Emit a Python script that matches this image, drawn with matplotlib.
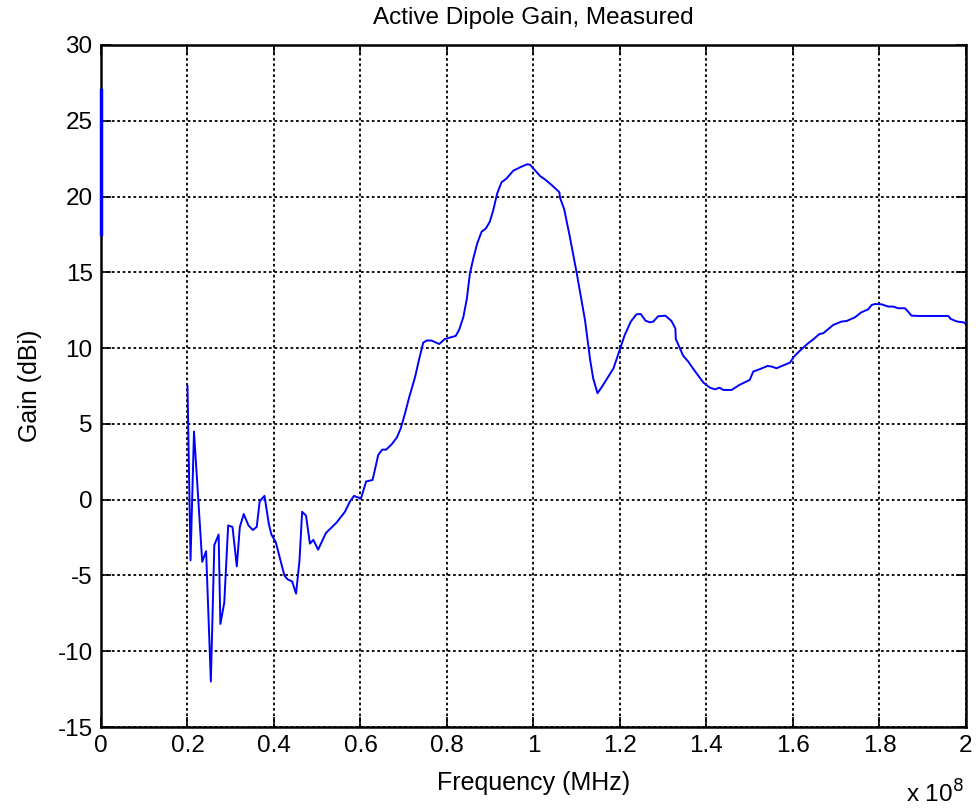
import matplotlib
matplotlib.use("Agg")
import matplotlib.pyplot as plt
from matplotlib.ticker import FuncFormatter
import numpy as np

plt.rcParams['font.family'] = ['Liberation Sans', 'DejaVu Sans']

# Frequency in units of 1e8 Hz
freq_e8 = [0.200, 0.207, 0.215, 0.234, 0.243, 0.254, 0.262, 0.272, 0.276, 0.285,
           0.294, 0.304, 0.314, 0.321, 0.330, 0.341, 0.351, 0.360, 0.367, 0.378,
           0.388, 0.394, 0.404, 0.424, 0.431, 0.442, 0.451, 0.459, 0.465, 0.474,
           0.483, 0.491, 0.502, 0.520, 0.545, 0.564, 0.576, 0.585, 0.601, 0.613,
           0.628, 0.641, 0.650, 0.659, 0.672, 0.684, 0.693, 0.703, 0.713, 0.726,
           0.735, 0.745, 0.753, 0.764, 0.782, 0.795, 0.807, 0.820, 0.828, 0.838,
           0.846, 0.853, 0.861, 0.870, 0.880, 0.890, 0.899, 0.907, 0.916, 0.926,
           0.938, 0.953, 0.969, 0.985, 0.992, 1.015, 1.026, 1.042, 1.060, 1.061,
           1.071, 1.084, 1.100, 1.119, 1.131, 1.138, 1.148, 1.161, 1.185, 1.198,
           1.211, 1.225, 1.238, 1.248, 1.259, 1.269, 1.277, 1.288, 1.305, 1.319,
           1.328, 1.329, 1.346, 1.358, 1.373, 1.393, 1.408, 1.420, 1.430, 1.439,
           1.458, 1.476, 1.500, 1.508, 1.524, 1.541, 1.551, 1.562, 1.574, 1.593,
           1.602, 1.616, 1.635, 1.647, 1.661, 1.670, 1.681, 1.693, 1.712, 1.724,
           1.743, 1.758, 1.774, 1.782, 1.790, 1.805, 1.820, 1.832, 1.843, 1.859,
           1.866, 1.874, 1.894, 1.959, 1.965, 1.980, 1.994, 2.000]
gain_dbi = [7.5, -4.0, 4.5, -4.1, -3.4, -12.0, -3.0, -2.3, -8.2, -6.8,
            -1.7, -1.8, -4.4, -1.8, -0.95, -1.7, -2.0, -1.8, -0.1, 0.25,
            -1.6, -2.3, -2.8, -5.0, -5.25, -5.4, -6.2, -4.0, -0.8, -1.05,
            -2.9, -2.65, -3.3, -2.2, -1.5, -0.8, -0.1, 0.25, 0.07, 1.2,
            1.3, 2.95, 3.3, 3.3, 3.65, 4.1, 4.7, 5.7, 6.8, 8.07,
            9.2, 10.36, 10.5, 10.5, 10.27, 10.6, 10.7, 10.8, 11.2, 12.07,
            13.28, 14.93, 15.93, 16.92, 17.68, 17.9, 18.34, 19.11, 20.2, 20.94,
            21.2, 21.7, 21.93, 22.13, 22.1, 21.36, 21.14, 20.76, 20.28, 19.95,
            19.16, 17.35, 14.94, 11.86, 9.22, 8.0, 7.02, 7.57, 8.67, 9.77,
            10.87, 11.75, 12.23, 12.25, 11.81, 11.7, 11.75, 12.1, 12.14, 11.79,
            11.3, 10.6, 9.5, 9.1, 8.49, 7.72, 7.39, 7.28, 7.39, 7.24,
            7.24, 7.57, 7.9, 8.45, 8.62, 8.82, 8.78, 8.67, 8.82, 9.04,
            9.43, 9.83, 10.32, 10.58, 10.93, 10.98, 11.24, 11.53, 11.75, 11.79,
            12.03, 12.36, 12.56, 12.85, 12.91, 12.89, 12.74, 12.74, 12.63, 12.63,
            12.41, 12.14, 12.12, 12.12, 11.92, 11.75, 11.7, 11.6]

# Near-DC samples (vertical segment at f = 0)
dc_freq_e8 = [0.0, 0.0]
dc_gain = [27.0, 17.5]

xticks_e8 = [0, 0.2, 0.4, 0.6, 0.8, 1.0, 1.2, 1.4, 1.6, 1.8, 2.0]
yticks = [-15, -10, -5, 0, 5, 10, 15, 20, 25, 30]

fig = plt.figure(figsize=(9.79, 8.11), dpi=100)
ax = fig.add_axes([101/979, 1 - 727/811, (966 - 101)/979, (727 - 45)/811])

f_hz = np.array(freq_e8) * 1e8
ax.plot(f_hz, gain_dbi, color='#0000ff', lw=1.4)
ax.plot(np.array(dc_freq_e8) * 1e8, dc_gain, color='#0000ff', lw=2.5,
        clip_on=False, zorder=5)

ax.set_xlim(0, 2e8)
ax.set_ylim(-15, 30)
ax.set_xticks(np.array(xticks_e8) * 1e8)
ax.set_yticks(yticks)
ax.xaxis.set_major_formatter(FuncFormatter(lambda v, p: '%g' % round(v / 1e8, 3)))
ax.yaxis.set_major_formatter(FuncFormatter(lambda v, p: '%g' % v))

ax.grid(True, color='black', linestyle=(0, (1.5, 1.5)), linewidth=1.3)
ax.tick_params(direction='in', length=7, width=1.2, top=True, right=True,
               labelsize=17.5, colors='black', pad=6)
for s in ax.spines.values():
    s.set_linewidth(1.8)

ax.set_title('Active Dipole Gain, Measured', fontsize=17.5, pad=15)
ax.set_xlabel('Frequency (MHz)', fontsize=18, labelpad=10)
ax.set_ylabel('Gain (dBi)', fontsize=18, labelpad=11)

fig.text(906/979, 0.004, 'x 10$^{8}$', fontsize=17.5, ha='left', va='bottom')

fig.savefig('out.png', dpi=100)
